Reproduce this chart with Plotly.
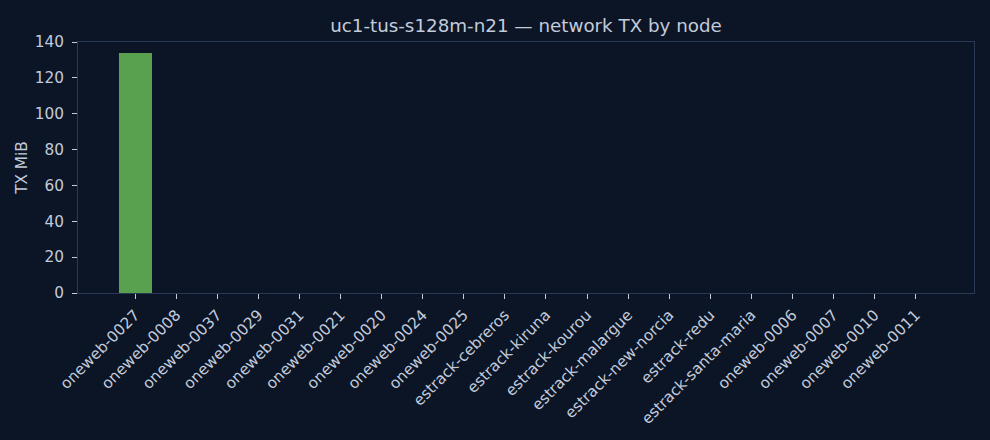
import plotly.graph_objects as go

nodes = ["oneweb-0027", "oneweb-0008", "oneweb-0037", "oneweb-0029", "oneweb-0031",
         "oneweb-0021", "oneweb-0020", "oneweb-0024", "oneweb-0025", "estrack-cebreros",
         "estrack-kiruna", "estrack-kourou", "estrack-malargue", "estrack-new-norcia",
         "estrack-redu", "estrack-santa-maria", "oneweb-0006", "oneweb-0007",
         "oneweb-0010", "oneweb-0011"]
tx_mib = [133.6, 0, 0, 0, 0, 0, 0, 0, 0, 0, 0, 0, 0, 0, 0, 0, 0, 0, 0, 0]

BG = "#0b1526"
TXT = "#c3cbdb"
SPINE = "#2a3a55"
FS = 15.3

fig = go.Figure(go.Bar(x=list(range(len(nodes))), y=tx_mib, width=0.8,
                       marker=dict(color="#59a14f", line=dict(width=0))))
fig.update_layout(
    width=990, height=440,
    paper_bgcolor=BG, plot_bgcolor=BG,
    margin=dict(l=78, r=15.5, t=41.5, b=147),
    font=dict(family="DejaVu Sans", color=TXT, size=FS),
    title=dict(text="uc1-tus-s128m-n21 — network TX by node", x=0.5, xref="paper",
               xanchor="center", y=1 - 26 / 440, yanchor="middle",
               font=dict(size=18.3, color=TXT)),
    showlegend=False,
    bargap=0,
)
fig.update_xaxes(range=[-1.39, 20.42], tickmode="array", tickvals=list(range(len(nodes))),
                 ticktext=nodes, tickangle=-45, showgrid=False, zeroline=False,
                 showline=True, linecolor=SPINE, linewidth=1, mirror=True,
                 ticks="outside", ticklen=5, tickcolor=TXT, tickwidth=1,
                 ticklabelstandoff=1,
                 tickfont=dict(size=FS, color=TXT))
fig.update_yaxes(range=[0, 140], tickvals=[0, 20, 40, 60, 80, 100, 120, 140],
                 showgrid=False, zeroline=False, showline=True, linecolor=SPINE,
                 linewidth=1, mirror=True, ticks="outside", ticklen=5, tickcolor=TXT,
                 tickwidth=1, ticklabelstandoff=5, tickfont=dict(size=FS, color=TXT),
                 title=dict(text="TX MiB", font=dict(size=FS, color=TXT), standoff=3))
fig.write_html("out.html", config={"displayModeBar": False},
               post_script="document.body.style.margin='0';document.body.style.overflow='hidden';")
